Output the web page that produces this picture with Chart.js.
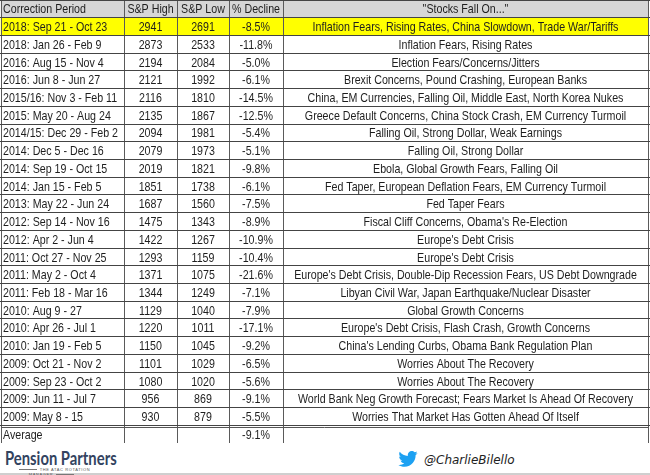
<!DOCTYPE html>
<html>
<head>
<meta charset="utf-8">
<script src="https://cdn.jsdelivr.net/npm/chart.js@4"></script>
<style>
  html, body { margin: 0; padding: 0; background: #fff; width: 650px; height: 475px; overflow: hidden; }
  #wrap { position: relative; width: 650px; height: 443px; }
  #footer { position: relative; width: 650px; height: 32px; border-bottom: 2px solid #cfcfcf; box-sizing: border-box; }
  #logo { position: absolute; left: 5px; top: 3px; transform: scaleX(0.78); transform-origin: 0 0; font-family: Lato, 'Open Sans', sans-serif; font-weight: bold; font-size: 19px; color: #33435f; }
  #tag { position: absolute; left: 8px; top: 24px; width: 90px; font-family: 'Liberation Sans', sans-serif; font-size: 4px; letter-spacing: 0.6px; color: #555; text-align: center; }
  #tag:before, #tag:after { content: ""; display: inline-block; width: 18px; border-top: 1px solid #777; vertical-align: 1px; margin: 0 3px; }
  #twitter { position: absolute; left: 398px; top: 8px; font-family: 'DejaVu Sans', sans-serif; font-style: italic; font-size: 12px; color: #222; }
  #twitter svg { vertical-align: -3px; margin-right: 6px; }
</style>
</head>
<body>
<div id="wrap"><canvas id="table" width="650" height="443"></canvas></div>
<div id="footer">
  <div id="logo">Pension Partners</div>
  <div id="tag">THE ATAC ROTATION MANAGER</div>
  <div id="twitter"><svg width="20" height="16" viewBox="0 0 24 20"><path fill="#1da1f2" d="M24 2.4c-.9.4-1.8.7-2.8.8 1-.6 1.8-1.6 2.2-2.7-1 .6-2 1-3.1 1.2C19.4.7 18.1.1 16.6.1c-2.7 0-4.900 2.2-4.9 4.9 0 .4 0 .8.1 1.1C7.7 5.9 4.1 4 1.700 1 1.200 1.7 1 2.600 1 3.500c0 1.700.9 3.200 2.200 4.100-.8 0-1.600-.2-2.200-.6v.1c0 2.400 1.700 4.400 3.900 4.800-.4.1-.8.2-1.300.2-.3 0-.6 0-.9-.1.6 2 2.400 3.400 4.600 3.400-1.700 1.300-3.800 2.100-6.100 2.100-.4 0-.8 0-1.200-.1 2.200 1.400 4.800 2.200 7.500 2.200 9.100 0 14-7.500 14-14v-.6c1-.7 1.800-1.600 2.500-2.600z"/></svg>@CharlieBilello</div>
</div>
<script>
// Table contents
const headers = ["Correction Period", "S&P High", "S&P Low", "% Decline", "\"Stocks Fall On...\""];

const periods = [
  "2018: Sep 21 - Oct 23", "2018: Jan 26 - Feb 9", "2016: Aug 15 - Nov 4", "2016: Jun 8 - Jun 27",
  "2015/16: Nov 3 - Feb 11", "2015: May 20 - Aug 24", "2014/15: Dec 29 - Feb 2", "2014: Dec 5 - Dec 16",
  "2014: Sep 19 - Oct 15", "2014: Jan 15 - Feb 5", "2013: May 22 - Jun 24", "2012: Sep 14 - Nov 16",
  "2012: Apr 2 - Jun 4", "2011: Oct 27 - Nov 25", "2011: May 2 - Oct 4", "2011: Feb 18 - Mar 16",
  "2010: Aug 9 - 27", "2010: Apr 26 - Jul 1", "2010: Jan 19 - Feb 5", "2009: Oct 21 - Nov 2",
  "2009: Sep 23 - Oct 2", "2009: Jun 11 - Jul 7", "2009: May 8 - 15"
];
const highs = [2941, 2873, 2194, 2121, 2116, 2135, 2094, 2079, 2019, 1851, 1687, 1475, 1422, 1293, 1371, 1344, 1129, 1220, 1150, 1101, 1080, 956, 930];
const lows = [2691, 2533, 2084, 1992, 1810, 1867, 1981, 1973, 1821, 1738, 1560, 1343, 1267, 1159, 1075, 1249, 1040, 1011, 1045, 1029, 1020, 869, 879];
const declines = [-8.5, -11.8, -5.0, -6.1, -14.5, -12.5, -5.4, -5.1, -9.8, -6.1, -7.5, -8.9, -10.9, -10.4, -21.6, -7.1, -7.9, -17.1, -9.2, -6.5, -5.6, -9.1, -5.5];
const reasons = [
  "Inflation Fears, Rising Rates, China Slowdown, Trade War/Tariffs",
  "Inflation Fears, Rising Rates",
  "Election Fears/Concerns/Jitters",
  "Brexit Concerns, Pound Crashing, European Banks",
  "China, EM Currencies, Falling Oil, Middle East, North Korea Nukes",
  "Greece Default Concerns, China Stock Crash, EM Currency Turmoil",
  "Falling Oil, Strong Dollar, Weak Earnings",
  "Falling Oil, Strong Dollar",
  "Ebola, Global Growth Fears, Falling Oil",
  "Fed Taper, European Deflation Fears, EM Currency Turmoil",
  "Fed Taper Fears",
  "Fiscal Cliff Concerns, Obama's Re-Election",
  "Europe's Debt Crisis",
  "Europe's Debt Crisis",
  "Europe's Debt Crisis, Double-Dip Recession Fears, US Debt Downgrade",
  "Libyan Civil War, Japan Earthquake/Nuclear Disaster",
  "Global Growth Concerns",
  "Europe's Debt Crisis, Flash Crash, Growth Concerns",
  "China's Lending Curbs, Obama Bank Regulation Plan",
  "Worries About The Recovery",
  "Worries About The Recovery",
  "World Bank Neg Growth Forecast; Fears Market Is Ahead Of Recovery",
  "Worries That Market Has Gotten Ahead Of Itself"
];
const averageLabel = "Average";
const averageDecline = -9.1;

// layout: column edges in canvas px, which row is highlighted
const colEdges = [1, 124, 177, 229, 283, 648];
const highlightRow = 0;
const FONT = "13px 'Liberation Sans', Arial, sans-serif";
const SQUEEZE = 0.82; // no Arial Narrow here, so squeeze Arial sideways

// one row per table line: header, data, average
const rows = [headers];
periods.forEach((p, i) => {
  rows.push([p, String(highs[i]), String(lows[i]), declines[i].toFixed(1) + "%", reasons[i]]);
});
rows.push([averageLabel, "", "", averageDecline.toFixed(1) + "%", ""]);
const rowKeys = rows.map((r, i) => "r" + i);

function cellColor(ctx) {
  const i = ctx.dataIndex;
  if (i === 0) return "#d6d6d6";
  if (i === highlightRow + 1) return "#ffff00";
  return "#ffffff";
}

const datasets = headers.map((h, c) => ({
  label: h,
  data: rows.map(() => [colEdges[c], colEdges[c + 1]]),
  backgroundColor: cellColor,
  borderWidth: 0,
  grouped: false,
  barPercentage: 1,
  categoryPercentage: 1
}));

const cellText = {
  id: "cellText",
  afterDraw(chart) {
    const { ctx, scales: { x, y } } = chart;
    ctx.save();
    ctx.fillStyle = "#1e1e1e";
    ctx.textBaseline = "middle";
    ctx.font = FONT;
    rows.forEach((r, i) => {
      const cy = y.getPixelForValue(i) + 1;
      r.forEach((txt, c) => {
        if (!txt) return;
        const x0 = x.getPixelForValue(colEdges[c]);
        const x1 = x.getPixelForValue(colEdges[c + 1]);
        const tx = c === 0 ? x0 + 2 : (x0 + x1) / 2;
        ctx.save();
        ctx.translate(tx, cy);
        ctx.scale(SQUEEZE, 1);
        ctx.textAlign = c === 0 ? "left" : "center";
        ctx.fillText(txt, 0, 0);
        ctx.restore();
      });
    });
    // double rule above the average row
    const yb = Math.round((y.getPixelForValue(rows.length - 2) + y.getPixelForValue(rows.length - 1)) / 2) + 2.5;
    ctx.strokeStyle = "#555";
    ctx.lineWidth = 1;
    ctx.beginPath();
    ctx.moveTo(x.getPixelForValue(colEdges[0]), yb);
    ctx.lineTo(x.getPixelForValue(colEdges[colEdges.length - 1]), yb);
    ctx.stroke();
    ctx.restore();
  }
};

new Chart(document.getElementById("table").getContext("2d"), {
  type: "bar",
  data: { labels: rowKeys, datasets: datasets },
  options: {
    indexAxis: "y",
    responsive: false,
    animation: false,
    devicePixelRatio: 1,
    layout: { padding: 0 },
    plugins: { legend: { display: false }, tooltip: { enabled: false } },
    scales: {
      x: {
        type: "linear",
        min: 0,
        max: 650,
        afterBuildTicks: axis => { axis.ticks = colEdges.map(v => ({ value: v })); },
        ticks: { display: false },
        grid: { color: "#5a5a5a", lineWidth: 1, drawTicks: false, z: 1 },
        border: { display: false }
      },
      y: {
        type: "category",
        offset: true,
        ticks: { display: false },
        grid: { offset: true, color: "#444", lineWidth: 1, drawTicks: false, z: 1 },
        border: { display: false }
      }
    }
  },
  plugins: [cellText]
});
</script>
</body>
</html>
